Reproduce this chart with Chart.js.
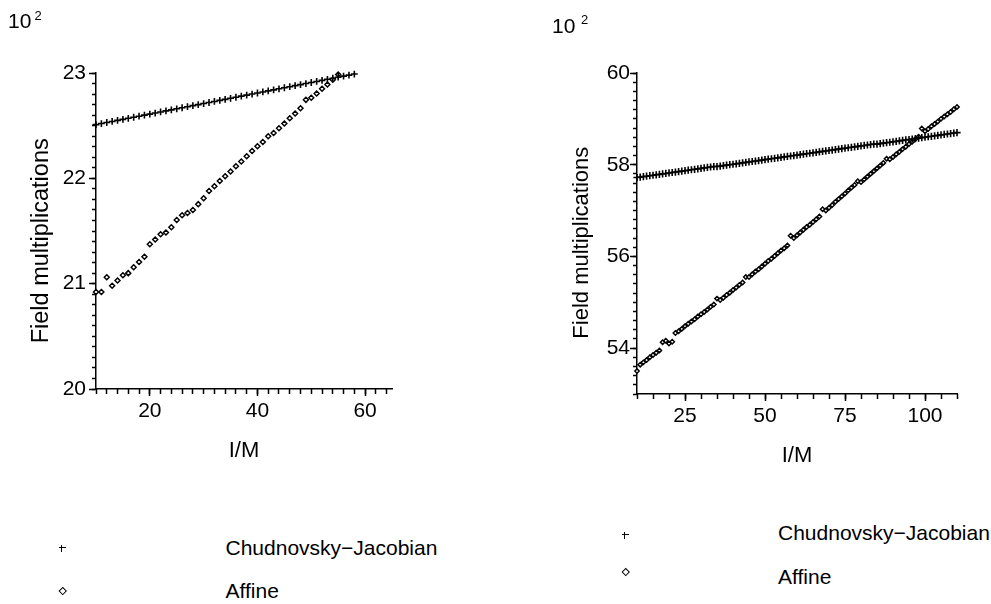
<!DOCTYPE html>
<html><head><meta charset="utf-8">
<script src="https://cdn.jsdelivr.net/npm/chart.js@4.4.1/dist/chart.umd.min.js"></script>
<style>
body{margin:0;background:#fff;width:991px;height:604px;position:relative;overflow:hidden;font-family:"Liberation Sans",Arial,sans-serif;color:#000}
.abs{position:absolute;white-space:nowrap;line-height:1}
canvas{position:absolute}
.t21{font-size:21px}
.t13{font-size:13px}
.plus{position:absolute;width:7px;height:7px;background:linear-gradient(#000,#000) center/7px 1.4px no-repeat,linear-gradient(#000,#000) center/1.4px 7px no-repeat}
.dia{position:absolute;width:3.5px;height:3.5px;border:1.3px solid #000;transform:rotate(45deg)}
</style></head><body>
<canvas id="c1" width="480" height="480" style="left:0;top:0"></canvas>
<canvas id="c2" width="491" height="480" style="left:500px;top:0"></canvas>

<div class="abs t21" style="left:8px;top:10px">10</div>
<div class="abs t13" style="left:34.5px;top:9px">2</div>
<div class="abs t21" style="left:552px;top:15px">10</div>
<div class="abs t13" style="left:581px;top:13px">2</div>

<div class="plus" style="left:58.5px;top:544.5px"></div>
<div class="abs t21" style="left:225.5px;top:537px">Chudnovsky−Jacobian</div>
<div class="dia" style="left:59.5px;top:587.5px"></div>
<div class="abs t21" style="left:225.5px;top:580px">Affine</div>

<div class="plus" style="left:621.5px;top:531.5px"></div>
<div class="abs t21" style="left:778px;top:522px">Chudnovsky−Jacobian</div>
<div class="dia" style="left:622.5px;top:569px"></div>
<div class="abs t21" style="left:778px;top:566px">Affine</div>

<script>
// ---------------- data ----------------
const leftCJx = [10,11,12,13,14,15,16,17,18,19,20,21,22,23,24,25,26,27,28,29,30,31,32,33,34,35,36,37,38,39,40,41,42,43,44,45,46,47,48,49,50,51,52,53,54,55,56,57,58];
const leftCJy = [22.51,22.52,22.53,22.54,22.55,22.56,22.57,22.58,22.59,22.60,
  22.61,22.62,22.63,22.64,22.65,22.66,22.67,22.68,22.69,22.70,
  22.71,22.72,22.73,22.74,22.75,22.76,22.77,22.78,22.79,22.80,
  22.81,22.82,22.83,22.84,22.85,22.86,22.87,22.88,22.89,22.90,
  22.91,22.92,22.93,22.94,22.95,22.96,22.97,22.98,22.99];

const leftAffx = [10,11,12,13,14,15,16,17,18,19,20,21,22,23,24,25,26,27,28,29,30,31,32,33,34,35,36,37,38,39,40,41,42,43,44,45,46,47,48,49,50,51,52,53,54,55];
const leftAffy = [20.92,20.92,21.06,20.98,21.03,21.08,21.10,21.155,21.205,21.255,
  21.375,21.42,21.47,21.485,21.535,21.605,21.65,21.67,21.70,21.755,
  21.81,21.88,21.925,21.975,22.02,22.065,22.115,22.16,22.21,22.26,
  22.305,22.345,22.40,22.43,22.475,22.52,22.57,22.615,22.665,22.745,
  22.765,22.805,22.85,22.89,22.935,22.985];

const rightX = [10,11,12,13,14,15,16,17,18,19,20,21,22,23,24,25,26,27,28,29,30,31,32,33,34,35,36,37,38,39,
  40,41,42,43,44,45,46,47,48,49,50,51,52,53,54,55,56,57,58,59,60,61,62,63,64,65,66,67,68,69,
  70,71,72,73,74,75,76,77,78,79,80,81,82,83,84,85,86,87,88,89,90,91,92,93,94,95,96,97,98,99,
  100,101,102,103,104,105,106,107,108,109,110];
const rightCJy = [57.72,57.73,57.74,57.75,57.76,57.77,57.78,57.79,57.80,57.81,
  57.82,57.83,57.84,57.85,57.86,57.87,57.88,57.89,57.90,57.91,
  57.92,57.93,57.94,57.95,57.96,57.96,57.97,57.98,57.99,58.00,
  58.01,58.02,58.03,58.04,58.05,58.06,58.07,58.08,58.09,58.10,
  58.11,58.12,58.13,58.14,58.15,58.16,58.17,58.18,58.19,58.20,
  58.21,58.22,58.23,58.24,58.25,58.26,58.27,58.28,58.29,58.30,
  58.31,58.32,58.33,58.34,58.35,58.36,58.37,58.38,58.39,58.40,
  58.41,58.42,58.43,58.44,58.45,58.45,58.46,58.47,58.48,58.49,
  58.50,58.51,58.52,58.53,58.54,58.55,58.56,58.57,58.58,58.59,
  58.60,58.61,58.62,58.63,58.64,58.65,58.66,58.67,58.68,58.69,
  58.70];
const rightAffy = [53.50,53.64,53.69,53.74,53.80,53.85,53.90,53.95,54.13,54.16,
  54.10,54.14,54.33,54.37,54.42,54.48,54.53,54.58,54.63,54.69,
  54.74,54.79,54.84,54.90,54.95,55.08,55.05,55.10,55.16,55.21,
  55.27,55.32,55.38,55.43,55.55,55.55,55.61,55.67,55.72,55.78,
  55.84,55.90,55.95,56.01,56.07,56.13,56.18,56.24,56.45,56.40,
  56.46,56.52,56.58,56.64,56.69,56.75,56.81,56.87,57.03,57.00,
  57.06,57.12,57.19,57.25,57.31,57.37,57.44,57.50,57.56,57.64,
  57.62,57.68,57.74,57.80,57.86,57.92,57.98,58.04,58.13,58.12,
  58.17,58.23,58.28,58.34,58.39,58.45,58.50,58.56,58.61,58.79,
  58.73,58.78,58.84,58.89,58.94,59.00,59.05,59.10,59.15,59.21,
  59.26];

const seriesNames = ['Chudnovsky−Jacobian', 'Affine'];
const xTitle = 'I/M';
const yTitle = 'Field multiplications';

const leftXTicks = [20, 40, 60];
const leftYTicks = [20, 21, 22, 23];
const rightXTicks = [25, 50, 75, 100];
const rightYTicks = [54, 56, 58, 60];
const leftXMinor = [10,12,14,16,18,20,22,24,26,28,30,32,34,36,38,40,42,44,46,48,50,52,54,56,58,60,62,64];
const leftYMinor = [20.0,20.1,20.2,20.3,20.4,20.5,20.6,20.7,20.8,20.9,21.0,21.1,21.2,21.3,21.4,21.5,21.6,21.7,21.8,21.9,22.0,22.1,22.2,22.3,22.4,22.5,22.6,22.7,22.8,22.9,23.0];
const rightXMinor = [10,15,20,25,30,35,40,45,50,55,60,65,70,75,80,85,90,95,100,105,110];
const rightYMinor = [53.0,53.2,53.4,53.6,53.8,54.0,54.2,54.4,54.6,54.8,55.0,55.2,55.4,55.6,55.8,56.0,56.2,56.4,56.6,56.8,57.0,57.2,57.4,57.6,57.8,58.0,58.2,58.4,58.6,58.8,59.0,59.2,59.4,59.6,59.8,60.0];

// ---------------- chart ----------------
const FONT = '"Liberation Sans", Arial, sans-serif';
function pts(xs, ys){ return xs.map((x,i)=>({x:x, y:ys[i]})); }

function makeChart(id, o){
  const font = {family: FONT, size: 21};
  const majorGrid = {display:true, drawOnChartArea:false, drawTicks:true, tickLength:7, tickWidth:1.5, tickColor:'#000'};
  return new Chart(document.getElementById(id), {
    type: 'scatter',
    data: {datasets: [
      {label: seriesNames[0], data: pts(o.cjx, o.cjy), pointStyle:'cross', pointRadius:o.cr,
       borderColor:'#000', backgroundColor:'#000', pointBorderWidth:1.6, showLine:false, clip:false,
       xAxisID:'x', yAxisID:'y'},
      {label: seriesNames[1], data: pts(o.afx, o.afy), pointStyle:'rectRot', pointRadius:o.dr,
       borderColor:'#000', backgroundColor:'#fff', pointBorderWidth:1.45, showLine:false, clip:false,
       xAxisID:'x', yAxisID:'y'}
    ]},
    options: {
      responsive:false, animation:false, devicePixelRatio:1, events:[],
      layout:{padding:{left:0, top:o.padT, right:o.padR, bottom:o.padB}, autoPadding:false},
      plugins:{legend:{display:false}, tooltip:{enabled:false}},
      scales:{
        x:{type:'linear', position:'bottom', min:o.xmin, max:o.xmax, weight:1,
           afterBuildTicks:s=>{s.ticks = o.xt.map(v=>({value:v}));},
           afterFit:s=>{s.height = 80;},
           grid:majorGrid, border:{display:true, color:'#000', width:1.5},
           ticks:{color:'#000', font:font, padding:o.xtpad, maxRotation:0, autoSkip:false},
           title:{display:true, text:xTitle, color:'#000', font:{family:FONT, size:22}, padding:{top:0, bottom:o.xTitlePad}}},
        xm:{type:'linear', position:'bottom', min:o.xmin, max:o.xmax, weight:0,
           afterBuildTicks:s=>{s.ticks = o.xm.map(v=>({value:v}));},
           afterFit:s=>{s.height = 0;},
           grid:{display:true, drawOnChartArea:false, drawTicks:true, tickLength:5, tickWidth:1.5, tickColor:'#000'},
           border:{display:false}, ticks:{display:false}},
        y:{type:'linear', position:'left', min:o.ymin, max:o.ymax, weight:1,
           afterBuildTicks:s=>{s.ticks = o.yt.map(v=>({value:v}));},
           afterFit:s=>{s.width = o.yw;},
           grid:majorGrid, border:{display:true, color:'#000', width:1.5},
           ticks:{color:'#000', font:font, padding:o.ytpad, autoSkip:false},
           title:{display:true, text:yTitle + '   ', color:'#000', font:{family:FONT, size:o.ytfs}, padding:{top:o.yTitlePad, bottom:0}}},
        ym:{type:'linear', position:'left', min:o.ymin, max:o.ymax, weight:0,
           afterBuildTicks:s=>{s.ticks = o.ym.map(v=>({value:v}));},
           afterFit:s=>{s.width = 0;},
           grid:{display:true, drawOnChartArea:false, drawTicks:true, tickLength:4, tickWidth:1.5, tickColor:'#000'},
           border:{display:false}, ticks:{display:false}}
      }
    }
  });
}

makeChart('c1', {
  cjx:leftCJx, cjy:leftCJy, afx:leftAffx, afy:leftAffy,
  xt:leftXTicks, yt:leftYTicks, xm:leftXMinor, ym:leftYMinor,
  xmin:10, xmax:65, ymin:20, ymax:23,
  padT:73, padR:88, padB:11, yw:96,
  cr:3.4, dr:2.5, xtpad:3, ytpad:3, xTitlePad:5, yTitlePad:27, ytfs:23.5
});
makeChart('c2', {
  cjx:rightX, cjy:rightCJy, afx:rightX, afy:rightAffy,
  xt:rightXTicks, yt:rightYTicks, xm:rightXMinor, ym:rightYMinor,
  xmin:10, xmax:110, ymin:53, ymax:60,
  padT:73, padR:34, padB:6, yw:137,
  cr:3.6, dr:2.2, xtpad:3, ytpad:0, xTitlePad:5, yTitlePad:69, ytfs:22
});
</script>
</body></html>
